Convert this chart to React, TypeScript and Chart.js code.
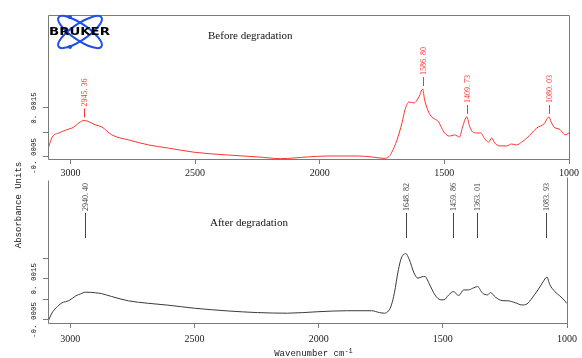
import React, { useEffect, useRef } from "react";
import { Chart, registerables } from "chart.js";
Chart.register(...registerables);

const X_MIN = 1000;
const X_MAX = 3090;
const X_TICKS = [3000, 2500, 2000, 1500, 1000];
const Y_TICKS_BEFORE = [-0.0005, 0.0005, 0.0015];
const Y_TICKS_AFTER = [-0.0005, 0.0005, 0.0015, 0.0025];
const Y_TICK_LABEL_VALUES = [-0.0005, 0.0015];
const Y_TICK_LABELS = ["-0. 0005", "0. 0015"];
const Y_RANGE_BEFORE = [-0.000625, 0.005375];
const Y_RANGE_AFTER = [-0.000646, 0.006393];

const beforeWavenumber = [
  3090, 3073, 3046, 3018, 2986, 2966, 2945, 2898, 2874, 2834, 2766, 2686, 2607, 2499, 2367, 2247,
  2158, 2049, 1969, 1849, 1790, 1742, 1722, 1710, 1690, 1670, 1658, 1642, 1622, 1602, 1587, 1579,
  1563, 1551, 1539, 1523, 1511, 1499, 1479, 1459, 1439, 1427, 1410, 1398, 1386, 1370, 1354, 1338,
  1322, 1310, 1298, 1278, 1250, 1230, 1210, 1190, 1169, 1149, 1129, 1101, 1080, 1072, 1056, 1040,
  1024, 1016, 1000,
];
const beforeAbsorbance = [
  -0.00021, 0.00029, 0.00046, 0.00058, 0.00071, 0.00088, 0.00098, 0.00079, 0.00071, 0.00038,
  0.00017, -0.00004, -0.00017, -0.00035, -0.00046, -0.00054, -0.00061, -0.00054, -0.0005, -0.0005,
  -0.00054, -0.0006, -0.00052, -0.00033, 0.00017, 0.00088, 0.00142, 0.00175, 0.00171, 0.00196,
  0.00229, 0.00183, 0.00133, 0.00113, 0.00104, 0.00092, 0.00067, 0.00046, 0.00033, 0.00038,
  0.00029, 0.00071, 0.00113, 0.00071, 0.0005, 0.00046, 0.00046, 0.00021, 0.00008, 0.00025,
  0.00004, -0.00008, -0.00008, 0.0, -0.00004, 0.00008, 0.00025, 0.00046, 0.00067, 0.00083,
  0.00113, 0.00092, 0.00067, 0.00063, 0.00046, 0.00038, 0.00046,
];

const afterWavenumber = [
  3090, 3074, 3058, 3034, 3006, 2978, 2958, 2940, 2898, 2874, 2834, 2766, 2686, 2607, 2499, 2366,
  2247, 2126, 2006, 1887, 1787, 1755, 1735, 1719, 1707, 1695, 1679, 1667, 1649, 1635, 1616, 1600,
  1584, 1572, 1556, 1532, 1508, 1496, 1476, 1458, 1436, 1416, 1396, 1380, 1360, 1340, 1320, 1308,
  1288, 1261, 1237, 1209, 1181, 1161, 1141, 1117, 1097, 1081, 1069, 1049, 1029, 1009, 1001,
];
const afterAbsorbance = [
  -0.00058, -0.00016, 0.000085, 0.00033, 0.00044, 0.00067, 0.00077, 0.00085, 0.00082, 0.00078,
  0.00064, 0.00043, 0.00031, 0.00022, 0.00007, -0.00006, -0.00014, -0.00017, -0.0001, -0.00005,
  -0.00005, -0.00014, -0.00017, -0.00006, 0.00023, 0.00082, 0.00194, 0.00251, 0.00272, 0.00243,
  0.00178, 0.00153, 0.0016, 0.00161, 0.00129, 0.00072, 0.00048, 0.00048, 0.00072, 0.00088,
  0.00069, 0.00096, 0.00096, 0.00104, 0.00112, 0.0008, 0.00072, 0.00083, 0.00061, 0.00044,
  0.00043, 0.00034, 0.00023, 0.00028, 0.00056, 0.00096, 0.00134, 0.00158, 0.00121, 0.00088,
  0.00067, 0.00043, 0.00031,
];

const beforePeakWavenumber = [2945.36, 1586.8, 1409.73, 1080.03];
const beforePeakAbsorbance = [0.00098, 0.00229, 0.00113, 0.00113];
const beforePeakLabel = ["2945. 36", "1586. 80", "1409. 73", "1080. 03"];
const afterPeakWavenumber = [2940.4, 1648.82, 1459.86, 1363.01, 1083.93];
const afterPeakLabel = ["2940. 40", "1648. 82", "1459. 86", "1363. 01", "1083. 93"];

const AXIS_GREY = "#7a7a7a";
const SERIF = '"Liberation Serif", "Times New Roman", serif';
const MONO = '"Liberation Mono", "DejaVu Sans Mono", monospace';

function peakPlugin(wn: number[], labels: string[], color: string, vals: number[] | null) {
  return {
    id: "peaks",
    afterDatasetsDraw(chart: any) {
      const { ctx, chartArea, scales } = chart;
      const x = scales.x;
      const y = scales.y;
      ctx.save();
      ctx.strokeStyle = color;
      ctx.fillStyle = color;
      ctx.lineWidth = 1;
      ctx.font = `8px ${SERIF}`;
      wn.forEach((w, i) => {
        const px = Math.round(x.getPixelForValue(w)) + 0.5;
        let lb: number, lt: number;
        if (vals) {
          const py = y.getPixelForValue(vals[i]);
          lb = py - 3;
          lt = py - 12;
        } else {
          lb = chartArea.top + 60;
          lt = chartArea.top + 35;
        }
        ctx.beginPath();
        ctx.moveTo(px, lb);
        ctx.lineTo(px, lt);
        ctx.stroke();
        ctx.save();
        ctx.translate(px, lt - 2);
        ctx.rotate(-Math.PI / 2);
        ctx.textAlign = "left";
        ctx.textBaseline = "middle";
        ctx.fillText(labels[i], 0, 0);
        ctx.restore();
      });
      ctx.restore();
    },
  };
}

function decorPlugin(kind: "before" | "after") {
  return {
    id: "decor",
    afterDraw(chart: any) {
      const { ctx, chartArea } = chart;
      const y = chart.scales.y;
      const { left, right, top, bottom } = chartArea;
      ctx.save();
      ctx.strokeStyle = AXIS_GREY;
      ctx.lineWidth = 1;
      ctx.beginPath();
      const L = Math.round(left) + 0.5;
      const R = Math.round(right) + 0.5;
      const T = Math.round(top) + 0.5;
      const B = Math.round(bottom) + 0.5;
      if (kind === "before") {
        ctx.moveTo(L, B);
        ctx.lineTo(L, T);
        ctx.lineTo(R, T);
        ctx.lineTo(R, B);
        ctx.lineTo(L, B);
      } else {
        ctx.moveTo(L, T + 2);
        ctx.lineTo(L, B);
        ctx.lineTo(R, B);
        ctx.lineTo(R, T - 1);
      }
      ctx.stroke();

      // y tick labels, rotated
      ctx.fillStyle = "#222";
      ctx.font = `7.5px ${MONO}`;
      Y_TICK_LABEL_VALUES.forEach((v, i) => {
        const py = y.getPixelForValue(v);
        ctx.save();
        ctx.translate(34, py);
        ctx.rotate(-Math.PI / 2);
        ctx.textAlign = "center";
        ctx.textBaseline = "middle";
        ctx.fillText(Y_TICK_LABELS[i], 0, 0);
        ctx.restore();
      });

      ctx.fillStyle = "#111";
      ctx.font = `11px ${SERIF}`;
      ctx.textAlign = "left";
      ctx.textBaseline = "middle";
      if (kind === "before") {
        ctx.fillText("Before degradation", left + 160, top + 21);
        // Bruker logo
        const cx = left + 32;
        const cy = top + 17;
        ctx.strokeStyle = "#1e4fe6";
        ctx.fillStyle = "#1e4fe6";
        ctx.lineWidth = 2;
        ctx.beginPath();
        ctx.ellipse(cx, cy, 26, 8, 0.6, 0, Math.PI * 2);
        ctx.stroke();
        ctx.beginPath();
        ctx.ellipse(cx, cy, 26, 8, -0.6, 0, Math.PI * 2);
        ctx.stroke();
        ctx.beginPath();
        ctx.arc(cx - 10, cy - 15, 2, 0, Math.PI * 2);
        ctx.fill();
        ctx.beginPath();
        ctx.arc(cx - 10, cy + 15, 2, 0, Math.PI * 2);
        ctx.fill();
        ctx.fillStyle = "#000";
        ctx.font = 'bold 11px "DejaVu Sans", sans-serif';
        const w = ctx.measureText("BRUKER").width;
        ctx.save();
        ctx.translate(left + 1, cy);
        ctx.scale(61 / w, 1);
        ctx.textBaseline = "middle";
        ctx.fillText("BRUKER", 0, 0);
        ctx.restore();
      } else {
        ctx.fillText("After degradation", left + 162, top + 45);
        // x-axis title
        ctx.fillStyle = "#222";
        ctx.font = `9px ${MONO}`;
        const main = "Wavenumber cm";
        const mw = ctx.measureText(main).width;
        ctx.font = `7px ${MONO}`;
        const sw = ctx.measureText("-1").width;
        const cxT = (left + right) / 2 + 6;
        const sx = cxT - (mw + sw) / 2;
        ctx.font = `9px ${MONO}`;
        ctx.fillText(main, sx, 354);
        ctx.font = `7px ${MONO}`;
        ctx.fillText("-1", sx + mw, 351);
        // y-axis title
        ctx.font = `9px ${MONO}`;
        ctx.save();
        ctx.translate(18.5, 205);
        ctx.rotate(-Math.PI / 2);
        ctx.textAlign = "center";
        ctx.textBaseline = "middle";
        ctx.fillText("Absorbance Units", 0, 0);
        ctx.restore();
      }
      ctx.restore();
    },
  };
}

function makeConfig(kind: "before" | "after") {
  const isBefore = kind === "before";
  const wn = isBefore ? beforeWavenumber : afterWavenumber;
  const ab = isBefore ? beforeAbsorbance : afterAbsorbance;
  const yTicks = isBefore ? Y_TICKS_BEFORE : Y_TICKS_AFTER;
  const yRange = isBefore ? Y_RANGE_BEFORE : Y_RANGE_AFTER;
  const color = isBefore ? "#ff3333" : "#3a3a3a";
  return {
    type: "line",
    data: {
      datasets: [
        {
          data: wn.map((w, i) => ({ x: w, y: ab[i] })),
          borderColor: color,
          borderWidth: 1,
          pointRadius: 0,
          fill: false,
          cubicInterpolationMode: "monotone",
        },
      ],
    },
    options: {
      animation: false,
      responsive: false,
      maintainAspectRatio: false,
      layout: {
        padding: isBefore
          ? { left: 0, right: 10, top: 15, bottom: 179 }
          : { left: 0, right: 10, top: 178, bottom: 12 },
      },
      plugins: { legend: { display: false }, tooltip: { enabled: false } },
      scales: {
        x: {
          type: "linear",
          reverse: true,
          min: X_MIN,
          max: X_MAX,
          afterBuildTicks: (s: any) => {
            s.ticks = X_TICKS.map((v) => ({ value: v }));
          },
          afterFit: (s: any) => {
            s.height = isBefore ? 20 : 23;
          },
          border: { display: false },
          grid: {
            display: true,
            drawOnChartArea: false,
            drawTicks: true,
            tickLength: 5,
            color: AXIS_GREY,
          },
          ticks: {
            color: "#222",
            font: { family: SERIF, size: 10 },
            maxRotation: 0,
            autoSkip: false,
            padding: isBefore ? 3 : 5,
            callback: (v: any) => String(v),
          },
        },
        y: {
          type: "linear",
          min: yRange[0],
          max: yRange[1],
          afterBuildTicks: (s: any) => {
            s.ticks = yTicks.map((v) => ({ value: v }));
          },
          afterFit: (s: any) => {
            s.width = 48;
          },
          border: { display: false },
          grid: {
            display: true,
            drawOnChartArea: false,
            drawTicks: true,
            tickLength: 5,
            color: AXIS_GREY,
          },
          ticks: { display: false },
        },
      },
    },
    plugins: [
      decorPlugin(kind),
      isBefore
        ? peakPlugin(beforePeakWavenumber, beforePeakLabel, "#ff3333", beforePeakAbsorbance)
        : peakPlugin(afterPeakWavenumber, afterPeakLabel, "#444", null),
    ],
  };
}

export default function App() {
  const topRef = useRef<HTMLCanvasElement>(null);
  const botRef = useRef<HTMLCanvasElement>(null);
  useEffect(() => {
    const a = new Chart(topRef.current as HTMLCanvasElement, makeConfig("before") as any);
    const b = new Chart(botRef.current as HTMLCanvasElement, makeConfig("after") as any);
    return () => {
      a.destroy();
      b.destroy();
    };
  }, []);
  const cs: React.CSSProperties = { position: "absolute", left: 0, top: 0, width: 582, height: 358 };
  return (
    <div style={{ position: "fixed", left: 0, top: 0, width: 582, height: 358, background: "#fff" }}>
      <canvas ref={topRef} width={582} height={358} style={cs} />
      <canvas ref={botRef} width={582} height={358} style={cs} />
    </div>
  );
}
